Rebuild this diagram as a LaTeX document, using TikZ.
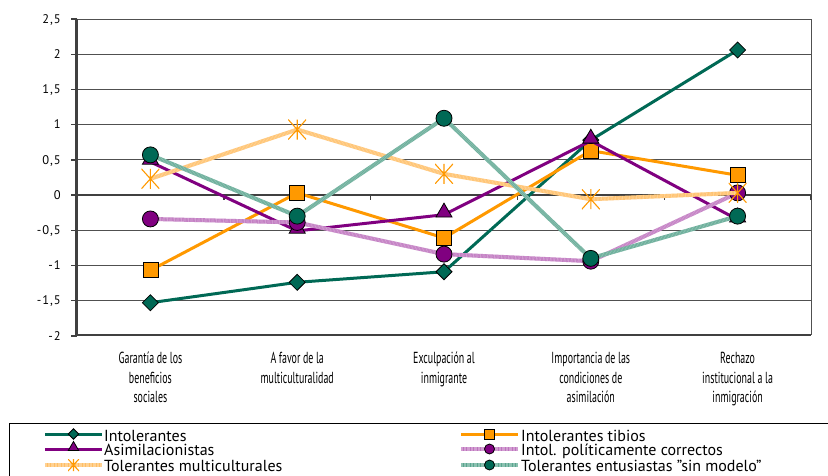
\documentclass[tikz,border=0pt]{standalone}
\usepackage{fontspec}
\setmainfont{PT Sans}
\newfontfamily\axisfont{PT Sans}[FakeStretch=0.62]
\newfontfamily\tickfont{PT Sans}[LetterSpace=8]
\usetikzlibrary{shapes.geometric}
\definecolor{dkgreen}{RGB}{0,105,85}
\definecolor{orng}{RGB}{255,153,0}
\definecolor{purp}{RGB}{128,0,128}
\definecolor{pinkh}{RGB}{190,115,190}
\definecolor{orngh}{RGB}{255,190,100}
\definecolor{tealh}{RGB}{90,165,143}
\definecolor{axisgray}{RGB}{64,64,64}
\definecolor{gridgray}{RGB}{80,80,80}
\newcommand\datapt[3]{\coordinate (#1) at (#2,{195-70.4*(#3)});}
\tikzset{
  grid/.style={draw=gridgray, line width=0.9pt},
  solidser/.style={draw=#1, line width=3pt, line join=round},
  hatchser/.style={preaction={draw=#1, line width=4pt, line join=round},
    draw=white, draw opacity=0.3, line width=4pt, dash pattern=on 0.7pt off 0.7pt, line join=round},
  mk/.style={draw=black, line width=0.8pt, inner sep=0pt, outer sep=0pt},
  mkdiamond/.style={mk, diamond, fill=dkgreen, minimum width=#1, minimum height=#1},
  mkdiamond/.default=16pt,
  mksquare/.style={mk, rectangle, fill=orng, minimum size=#1},
  mksquare/.default=15pt,
  mktri/.style={mk, regular polygon, regular polygon sides=3, fill=purp, minimum size=#1},
  mktri/.default=18.5pt,
  mkcircle/.style={mk, circle, fill=#1, minimum size=16pt},
  mkstar/.style={inner sep=0pt, minimum width=18pt, minimum height=20pt,
    path picture={\draw[orng, line width=1.1pt]
      (path picture bounding box.north) -- (path picture bounding box.south)
      (path picture bounding box.north west) -- (path picture bounding box.south east)
      (path picture bounding box.north east) -- (path picture bounding box.south west);}},
  catlab/.style={anchor=north, align=center, inner sep=0pt, font=\axisfont\fontsize{16}{19.5}\selectfont},
  ticklab/.style={anchor=base east, inner sep=0pt, font=\tickfont\fontsize{12.5}{14}\selectfont},
  legtext/.style={anchor=base west, inner sep=0pt, text height=10pt, text depth=2pt, font=\fontsize{16}{16}\selectfont},
}
\begin{document}
\begin{tikzpicture}[x=1pt,y=-1pt]
\useasboundingbox (0,0) rectangle (828,475);
\fill[white] (0,0) rectangle (828,475);

% gridlines
\foreach \v in {2.5,2,1.5,1,0.5,-0.5,-1,-1.5}
  \draw[grid] (77,{195-70.4*\v}) -- (811,{195-70.4*\v});
\draw[draw=axisgray, line width=1.2pt] (77,335) -- (811,335);
\draw[draw=gridgray, line width=1pt] (811,19) -- (811,335);
% x axis at 0
\draw[draw=axisgray, line width=2pt] (77,195) -- (811,195);
\foreach \k in {1,...,5}
  \draw[draw=axisgray, line width=1.4pt] ({77+146.8*\k},195) -- ({77+146.8*\k},199.5);
% y axis
\draw[draw=axisgray, line width=2.6pt] (76.5,18.5) -- (76.5,336);
\foreach \v in {2.5,2,1.5,1,0.5,0,-0.5,-1,-1.5,-2}
  \draw[draw=axisgray, line width=1.4pt] (71,{195-70.4*\v}) -- (76.5,{195-70.4*\v});
\foreach \v/\t [count=\i] in {2.5/{2,5},2/2,1.5/{1,5},1/1,0.5/{0,5},0/0,-0.5/{-0,5},-1/-1,-1.5/{-1,5},-2/-2}
  \node[ticklab] (yl\i) at (61,{195-70.4*\v+4.3}) {\t};

% category labels
\node[catlab] (c1) at (150.4,352) {Garantía de los\\beneficios\\sociales};
\node[catlab] (c2) at (297.2,352) {A favor de la\\multiculturalidad};
\node[catlab] (c3) at (444,352) {Exculpación al\\inmigrante};
\node[catlab] (c4) at (590.8,352) {Importancia de las\\condiciones de\\asimilación};
\node[catlab] (c5) at (737.6,352) {Rechazo\\institucional a la\\inmigración};

% data
\datapt{a1}{150.4}{-1.53}\datapt{a2}{297.2}{-1.24}\datapt{a3}{444}{-1.09}\datapt{a4}{590.8}{0.78}\datapt{a5}{737.6}{2.06}
\datapt{b1}{150.4}{-1.07}\datapt{b2}{297.2}{0.03}\datapt{b3}{444}{-0.61}\datapt{b4}{590.8}{0.63}\datapt{b5}{737.6}{0.28}
\datapt{d1}{150.4}{0.47}\datapt{d2}{297.2}{-0.51}\datapt{d3}{444}{-0.28}\datapt{d4}{590.8}{0.77}\datapt{d5}{737.6}{-0.35}
\datapt{p1}{150.4}{-0.34}\datapt{p2}{297.2}{-0.39}\datapt{p3}{444}{-0.84}\datapt{p4}{590.8}{-0.94}\datapt{p5}{737.6}{0.03}
\datapt{m1}{150.4}{0.23}\datapt{m2}{297.2}{0.93}\datapt{m3}{444}{0.30}\datapt{m4}{590.8}{-0.06}\datapt{m5}{737.6}{0.03}
\datapt{e1}{150.4}{0.57}\datapt{e2}{297.2}{-0.30}\datapt{e3}{444}{1.09}\datapt{e4}{590.8}{-0.90}\datapt{e5}{737.6}{-0.30}

% Intolerantes
\draw[solidser=dkgreen] (a1) -- (a2) -- (a3) -- (a4) -- (a5);
\foreach \i in {1,...,5} \node[mkdiamond] (ma\i) at (a\i) {};
% Intolerantes tibios
\draw[solidser=orng] (b1) -- (b2) -- (b3) -- (b4) -- (b5);
\foreach \i in {1,...,5} \node[mksquare] (mb\i) at (b\i) {};
% Asimilacionistas
\draw[solidser=purp] (d1) -- (d2) -- (d3) -- (d4) -- (d5);
\foreach \i in {1,...,5} \node[mktri, yshift=2.3pt] (md\i) at (d\i) {};
% Intol. politicamente correctos
\draw[hatchser=pinkh] (p1) -- (p2) -- (p3) -- (p4) -- (p5);
\foreach \i in {1,...,5} \node[mkcircle=purp] (mp\i) at (p\i) {};
% Tolerantes multiculturales
\draw[hatchser=orngh] (m1) -- (m2) -- (m3) -- (m4) -- (m5);
\foreach \i in {1,...,5} \node[mkstar] (mm\i) at (m\i) {};
% Tolerantes entusiastas
\draw[hatchser=tealh] (e1) -- (e2) -- (e3) -- (e4) -- (e5);
\foreach \i in {1,...,5} \node[mkcircle=dkgreen] (me\i) at (e\i) {};

% legend
\draw[black, line width=1pt] (9,480) -- (9,423.5) -- (830,423.5);
\coordinate (la0) at (45,434); \coordinate (la1) at (102,434);
\draw[solidser=dkgreen] (la0) -- (la1);
\node[mkdiamond=10.5pt] (lam) at (73.5,434) {};
\node[legtext] (lat) at (104,441.5) {Intolerantes};
\coordinate (ld0) at (45,449); \coordinate (ld1) at (102,449);
\draw[solidser=purp] (ld0) -- (ld1);
\node[mktri=12pt, yshift=1.5pt] (ldm) at (73.5,449) {};
\node[legtext] (ldt) at (104,455.5) {Asimilacionistas};
\coordinate (lm0) at (45,465); \coordinate (lm1) at (102,465);
\draw[hatchser=orngh] (lm0) -- (lm1);
\node[mkstar, minimum width=11pt, minimum height=12pt] (lmm) at (73.5,465) {};
\node[legtext] (lmt) at (104,471) {Tolerantes multiculturales};

\coordinate (lb0) at (461,434); \coordinate (lb1) at (518,434);
\draw[solidser=orng] (lb0) -- (lb1);
\node[mksquare=10pt] (lbm) at (489.5,434) {};
\node[legtext] (lbt) at (521,441.5) {Intolerantes tibios};
\coordinate (lp0) at (461,449); \coordinate (lp1) at (518,449);
\draw[hatchser=pinkh] (lp0) -- (lp1);
\node[mk, circle, fill=purp, minimum size=10pt] (lpm) at (489.5,449) {};
\node[legtext] (lpt) at (521,455.5) {Intol. políticamente correctos};
\coordinate (le0) at (461,465); \coordinate (le1) at (518,465);
\draw[hatchser=tealh] (le0) -- (le1);
\node[mk, circle, fill=dkgreen, minimum size=10pt] (lem) at (489.5,465) {};
\node[legtext] (let) at (521,471) {Tolerantes entusiastas \symbol{"22}sin modelo\symbol{"22}};
\end{tikzpicture}
\end{document}
